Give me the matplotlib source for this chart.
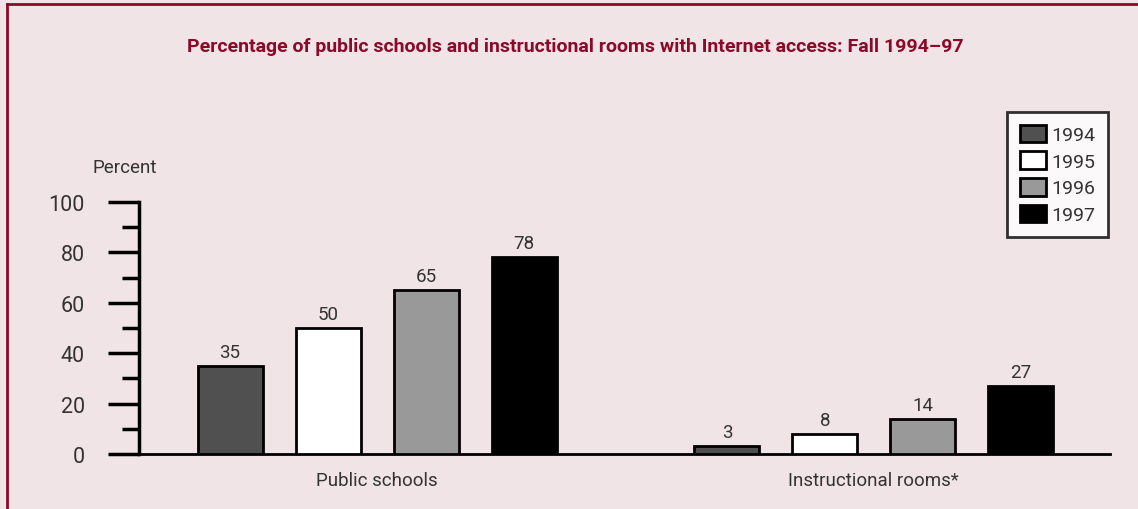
import numpy as np
import matplotlib.pyplot as plt
from matplotlib.lines import Line2D
from matplotlib.ticker import MultipleLocator

groups = ['Public schools', 'Instructional rooms*']
years = ['1994', '1995', '1996', '1997']
public_schools = [35, 50, 65, 78]
instructional_rooms = [3, 8, 14, 27]
colors = ['#505050', '#ffffff', '#999999', '#000000']

bg = '#f1e4e7'
red = '#8b0a2a'
txt = '#333333'

plt.rcParams['font.family'] = ['Roboto', 'DejaVu Sans']

fig = plt.figure(figsize=(11.38, 5.10), dpi=100, facecolor=bg)
ax = fig.add_axes([139 / 1138, 55 / 510, 971 / 1138, 252 / 510])
ax.set_facecolor(bg)

# frame lines top and left
fig.add_artist(Line2D([7 / 1138, 1], [1 - 5 / 510, 1 - 5 / 510], color=red, lw=2))
fig.add_artist(Line2D([7 / 1138, 7 / 1138], [0, 1 - 5 / 510], color=red, lw=2))

centers = np.array([2.43, 7.5])
offsets = np.array([-1.5, -0.5, 0.5, 1.5])
width = 0.663
data = np.array([public_schools, instructional_rooms])

for i, year in enumerate(years):
    xs = centers + offsets[i]
    ax.bar(xs, data[:, i], width, color=colors[i], edgecolor='black',
           linewidth=2, label=year, zorder=3)
    for x, v in zip(xs, data[:, i]):
        ax.text(x, v + 2, str(v), ha='center', va='bottom', fontsize=13.5, color=txt)

ax.set_xlim(0, 9.91)
ax.set_ylim(0, 100)
ax.yaxis.set_major_locator(MultipleLocator(20))
ax.yaxis.set_minor_locator(MultipleLocator(10))
ax.tick_params(axis='y', which='major', length=22, width=2.5, labelsize=15.5,
               labelcolor=txt, pad=17)
ax.tick_params(axis='y', which='minor', length=12, width=2.5)
ax.set_xticks(centers)
ax.set_xticklabels(groups, fontsize=13.5, color=txt)
ax.tick_params(axis='x', length=0, pad=12)
for s in ['top', 'right']:
    ax.spines[s].set_visible(False)
ax.spines['left'].set_linewidth(2.5)
ax.spines['bottom'].set_linewidth(2)
ax.spines['left'].set_zorder(4)

fig.text(93 / 1138, 1 - 168 / 510, 'Percent', fontsize=13.5, color=txt, va='center')
fig.text(575 / 1138, 1 - 47 / 510,
         'Percentage of public schools and instructional rooms with Internet access: Fall 1994\u201397',
         ha='center', va='center', fontsize=14, fontweight='bold', color=red)

leg = ax.legend(loc='upper left', bbox_to_anchor=(1007 / 1138, 1 - 113 / 510),
                bbox_transform=fig.transFigure, fontsize=14, frameon=True,
                fancybox=False, edgecolor='black', handlelength=1.35,
                handleheight=1.0, handletextpad=0.3, labelspacing=0.38,
                borderpad=0.65, borderaxespad=0, labelcolor=txt)
leg.get_frame().set_linewidth(2)
leg.get_frame().set_facecolor('white')

fig.savefig('out.png', dpi=100, facecolor=bg)
